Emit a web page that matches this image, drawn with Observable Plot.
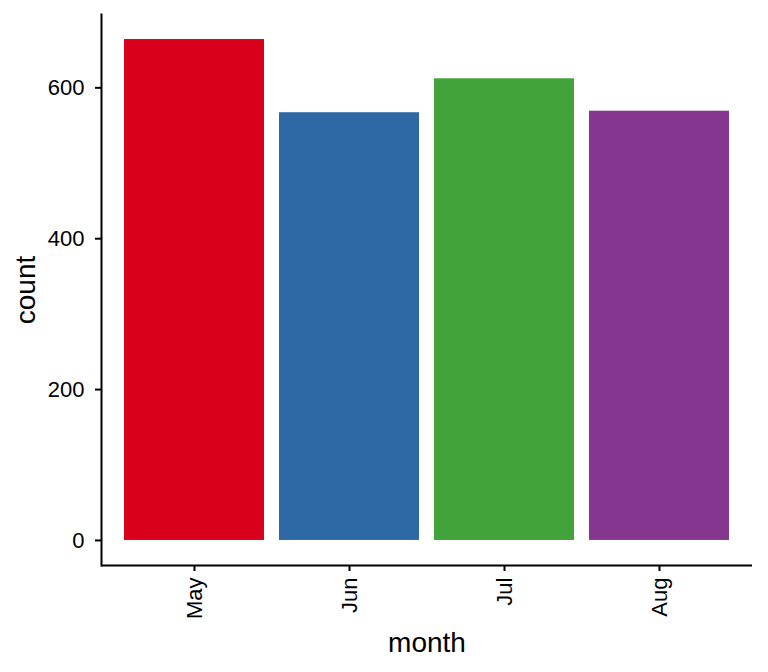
<!DOCTYPE html>
<html>
<head>
<meta charset="utf-8">
<script src="https://cdn.jsdelivr.net/npm/d3@7"></script>
<script src="https://cdn.jsdelivr.net/npm/@observablehq/plot@0.6"></script>
<style>
  html, body { margin: 0; padding: 0; background: #fff; }
  #chart svg { display: block; }
  #chart svg text { font-size: 22px; }
  #chart svg g[aria-label="x-axis label"] text, #chart svg g[aria-label="y-axis label"] text { font-size: 28px; }
  #chart g[aria-label="x-axis tick"], #chart g[aria-label="y-axis tick"] { stroke-width: 2px; stroke: #000; }
</style>
</head>
<body>
<div id="chart"></div>
<script>
const months = ["May", "Jun", "Jul", "Aug"];
const counts = [664, 567, 612, 569];
const colors = ["#D9001B", "#2E69A6", "#42A33A", "#85378F"];
const yTicks = [0, 200, 400, 600];

const data = months.map((m, i) => ({month: m, count: counts[i]}));
const maxCount = d3.max(counts);
const yMin = -0.05 * maxCount, yMax = 1.05 * maxCount;

const chart = Plot.plot({
  width: 768,
  height: 672,
  marginLeft: 101,
  marginRight: 16,
  marginTop: 14,
  marginBottom: 107,
  style: {fontFamily: "'Liberation Sans', Arial, sans-serif", fontSize: "22px", background: "#fff", color: "#000"},
  x: {domain: months, paddingInner: 0.1, paddingOuter: 0.15},
  y: {domain: [yMin, yMax]},
  color: {domain: months, range: colors},
  marks: [
    Plot.barY(data, {x: "month", y: "count", fill: "month"}),
    Plot.frame({anchor: "left", stroke: "#000", strokeWidth: 2}),
    Plot.ruleY([yMin], {stroke: "#000", strokeWidth: 2}),
    Plot.axisY({
      ticks: yTicks, tickSize: 6, tickPadding: 11, strokeWidth: 2,
      label: "count", labelAnchor: "center", labelArrow: "none", labelOffset: 86
    }),
    Plot.axisX({
      tickSize: 6, tickPadding: 6, strokeWidth: 2, tickRotate: -90,
      label: "month", labelAnchor: "center", labelArrow: "none", labelOffset: 86
    })
  ]
});
document.getElementById("chart").appendChild(chart);
</script>
</body>
</html>
